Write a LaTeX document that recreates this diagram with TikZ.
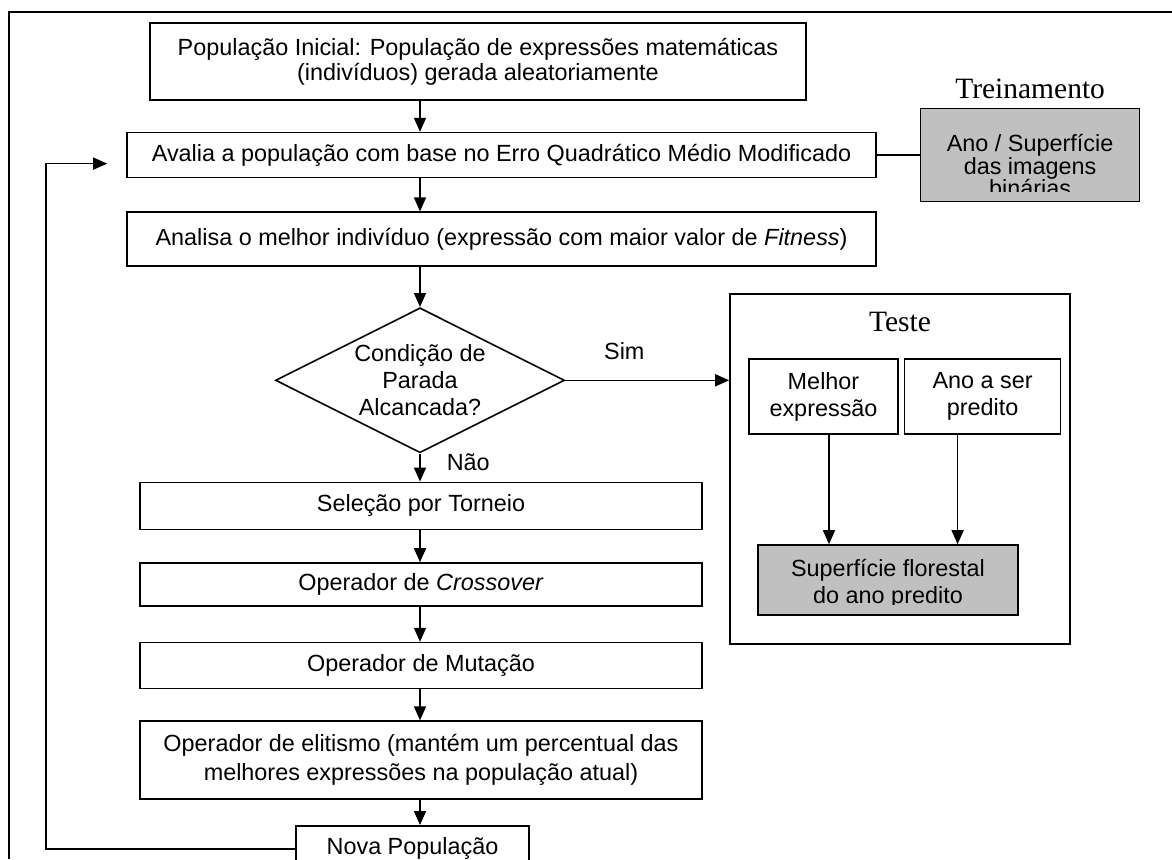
\documentclass[tikz,border=0pt]{standalone}
\usepackage{fontspec}
\setmainfont{Liberation Sans}
\newfontfamily\gpserif{Liberation Serif}
\usepackage{xcolor}
\definecolor{gpcinza}{HTML}{C0C0C0}
\usepackage{tikz}
\usetikzlibrary{arrows.meta,positioning,shapes.geometric}
\tikzset{
  gpbox/.style={draw,line width=1.6pt,inner sep=0pt,align=center,font=\fontsize{23.4}{27}\selectfont},
  gpgray/.style={gpbox,fill=gpcinza},
  gpdiam/.style={gpbox,diamond,aspect=2,minimum width=289pt,minimum height=145pt},
  gpflow/.style={-{Triangle[length=14pt,width=12pt]},line width=1.6pt},
  gptitle/.style={font=\gpserif\fontsize{29.5}{32}\selectfont,inner sep=0pt},
  gplabel/.style={font=\fontsize{23.4}{27}\selectfont,inner sep=0pt},
}

\begin{document}
\begin{tikzpicture}[x=1pt,y=1pt]
\useasboundingbox (0,0) rectangle (1172,-859);
\draw[line width=1.2pt] (9,-859) |- (1172,-12);
% laco principal
\node[gpbox,minimum width=656pt,minimum height=77pt,font=\fontsize{23.4}{25}\selectfont] (pi) at (478,-61.5) {População Inicial: População de expressões matemáticas\\(indivíduos) gerada aleatoriamente};
\node[gpbox,below=31pt of pi,xshift=23.5pt,minimum width=749pt,minimum height=45pt] (av) {Avalia a população com base no Erro Quadrático Médio Modificado};
\node[gpbox,below=33pt of av,minimum width=749pt,minimum height=54pt] (an) {Analisa o melhor indivíduo (expressão com maior valor de \textit{Fitness})};
\node[gpdiam,below=40pt of an,xshift=-81.5pt] (cp) {Condição de\\Parada\\Alcancada?};
\node[gpbox,below=28pt of cp,xshift=1pt,minimum width=562pt,minimum height=47pt] (se) {Seleção por Torneio};
\node[gpbox,below=32pt of se,minimum width=562pt,minimum height=43pt] (co) {Operador de \textit{Crossover}};
\node[gpbox,below=35pt of co,minimum width=562pt,minimum height=46pt] (mu) {Operador de Mutação};
\node[gpbox,below=31pt of mu,minimum width=562pt,minimum height=78pt,font=\fontsize{23.4}{29}\selectfont] (el) {Operador de elitismo (mantém um percentual das\\melhores expressões na população atual)};
\node[gpbox,below=25pt of el,xshift=-8.5pt,minimum width=233pt,minimum height=46pt] (np) {Nova População};
\draw[gpflow](pi.south -| cp)--(av.north -| cp);\draw[gpflow](av.south -| cp)--(an.north -| cp);\draw[gpflow](an.south -| cp)--(cp.north);
\draw[gpflow](cp.south)-- node[gplabel,right=26pt,pos=0.32]{Não} (se.north -| cp);
\draw[gpflow](se.south -| cp)--(co.north -| cp);\draw[gpflow](co.south -| cp)--(mu.north -| cp);\draw[gpflow](mu.south -| cp)--(el.north -| cp);\draw[gpflow](el.south -| cp)--(np.north -| cp);
% volta para a avaliacao
\coordinate (volta) at ([xshift=-19pt,yshift=-8.5pt]av.west);
\draw[gpflow](np.west) -- ++(-249,0) |- (volta);
% treinamento
\node[gpgray,right=43pt of av,minimum width=219pt,minimum height=93pt,
  path picture={\clip ([yshift=10pt]path picture bounding box.south west) rectangle (path picture bounding box.north east);
    \node[gplabel,anchor=center,align=center,font=\fontsize{23.4}{22.5}\selectfont] at ([yshift=-10.5pt]path picture bounding box.center) {Ano / Superfície\\das imagens\\binárias};}] (tr) {};
\node[gptitle,above=9pt of tr] (trl) {Treinamento};
\draw[line width=1.6pt](av.east)--(tr.west);
% teste
\node[gpbox,minimum width=340pt,minimum height=350pt] (te) at (900,-469) {};
\node[gptitle,below=19pt of te.north] (tel) {Teste};
\node[gpbox,minimum width=149pt,minimum height=75pt] (me) at (823.5,-396.5) {Melhor\\expressão};
\node[gpbox,right=5pt of me,minimum width=156pt,minimum height=75pt] (as) {Ano a ser\\predito};
\node[gpgray,minimum width=260pt,minimum height=70pt,
  path picture={\clip ([yshift=11pt]path picture bounding box.south west) rectangle (path picture bounding box.north east);
    \node[gplabel,anchor=center,align=center] at ([yshift=-4pt]path picture bounding box.center) {Superfície florestal\\do ano predito};}] (sf) at (888,-580) {};
\draw[gpflow]([xshift=5.5pt]me.south)--([xshift=5.5pt]me.south |- sf.north);
\draw[gpflow]([xshift=-25pt]as.south)--([xshift=-25pt]as.south |- sf.north);
\draw[gpflow](cp.east)-- node[gplabel,above=20pt,pos=0.36]{Sim} (te.west |- cp.east);
\end{tikzpicture}
\end{document}
